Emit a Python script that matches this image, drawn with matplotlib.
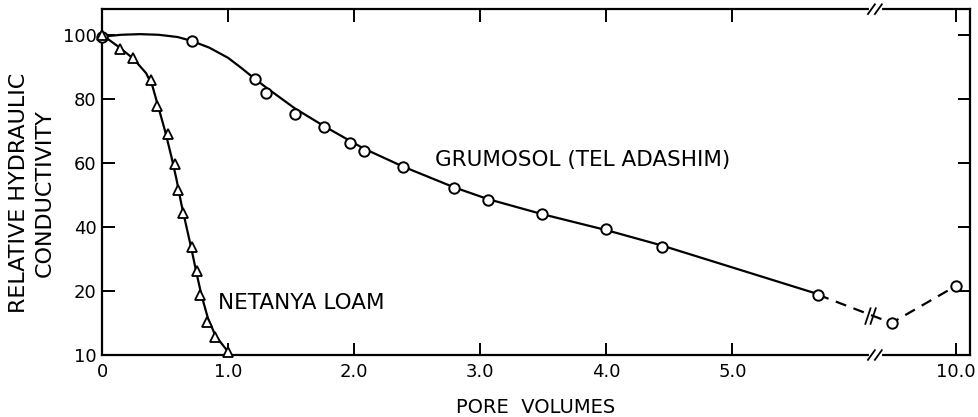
import numpy as np
import matplotlib
matplotlib.use("Agg")
import matplotlib.pyplot as plt

# Grumosol (Tel Adashim), circles
grum_x = [0.0, 0.71, 1.21, 1.30, 1.53, 1.76, 1.97, 2.08, 2.39, 2.79, 3.06, 3.49, 4.0, 4.44, 5.68]
grum_y = [99.4, 98.1, 86.3, 81.9, 75.3, 71.3, 66.3, 63.7, 58.8, 52.2, 48.4, 44.0, 39.4, 33.8, 18.8]
# smooth curve
grum_curve_x = [0.0, 0.15, 0.3, 0.45, 0.6, 0.71, 0.85, 1.0, 1.1, 1.21, 1.30, 1.53, 1.76, 1.97,
                2.08, 2.39, 2.79, 3.06, 3.49, 4.0, 4.44, 5.68]
grum_curve_y = [99.4, 100.0, 100.2, 100.0, 99.3, 98.1, 96.0, 92.8, 89.8, 86.3, 83.6, 77.0, 71.5,
                66.8, 64.4, 58.8, 52.4, 48.7, 44.0, 39.0, 34.2, 19.0]
# beyond the axis break (dashed)
grum_far_x = [5.68, 8.0, 10.0]
grum_far_y = [18.8, 10.0, 21.5]

# Netanya loam, triangles
net_x = [0.0, 0.14, 0.245, 0.39, 0.44, 0.52, 0.58, 0.60, 0.64, 0.71, 0.75, 0.78, 0.83, 0.90, 1.0]
net_y = [100.0, 95.6, 92.8, 86.0, 77.8, 69.0, 59.7, 51.6, 44.4, 33.8, 26.3, 18.8, 10.3, 5.6, 1.0]
# smooth curve
net_curve_x = [0.0, 0.14, 0.25, 0.35, 0.40, 0.45, 0.50, 0.55, 0.59, 0.63, 0.67, 0.71, 0.75,
               0.79, 0.84, 0.90, 1.0]
net_curve_y = [100.0, 96.0, 92.5, 88.0, 84.0, 77.0, 70.0, 62.0, 55.0, 47.0, 40.0, 33.0, 25.5,
               18.5, 11.5, 6.0, 1.0]

xtick_vals = [0, 1, 2, 3, 4, 5, 10]
xtick_labels = ["0", "1.0", "2.0", "3.0", "4.0", "5.0", "10.0"]
ytick_vals = [0, 20, 40, 60, 80, 100]
ytick_labels = ["10", "20", "40", "60", "80", "100"]

# broken x axis: 6.13 .. 7.5 squeezed out, right part compressed
XB0, XB1 = 6.13, 7.5
xp = [-10.0, XB0, XB1, 20.0]
up = [-10.0, XB0, XB0 + 0.005, XB0 + 0.005 + 12.5 * 0.254]


def fwd(x):
    return np.interp(x, xp, up)


def inv(u):
    return np.interp(u, up, xp)


plt.rcParams['font.family'] = ['DejaVu Sans']
fig = plt.figure(figsize=(9.79, 4.17), dpi=100)
ax = fig.add_axes([0.1042, 0.1487, 0.8866, 0.8293])
ax.set_xscale('function', functions=(fwd, inv))

lw = 1.6
ax.plot(grum_curve_x, grum_curve_y, color='black', lw=lw, zorder=2)
ax.plot(grum_far_x, grum_far_y, color='black', lw=lw, dashes=(5, 3.5), zorder=2)
ax.plot(grum_x + grum_far_x[1:], grum_y + grum_far_y[1:], 'o', ms=7.5, mfc='white',
        mec='black', mew=1.4, clip_on=False, zorder=3)

ax.plot(net_curve_x, net_curve_y, color='black', lw=lw, zorder=2)
ax.plot(net_x, net_y, '^', ms=7.5, mfc='white', mec='black', mew=1.3,
        clip_on=False, zorder=3)

xmax = 10.45
ax.set_xlim(0, xmax)
ax.set_ylim(0, 108)

ax.set_xticks(xtick_vals)
ax.set_xticklabels(xtick_labels)
ax.set_yticks(ytick_vals)
ax.set_yticklabels(ytick_labels)
ax.tick_params(direction='in', length=9, width=1.4, labelsize=13, top=True, right=True)
ax.tick_params(axis='x', pad=6)
ax.tick_params(axis='y', pad=4)
for s in ax.spines.values():
    s.set_linewidth(1.6)

# break marks "//" on top and bottom spines (axes coords)
ub = float(fwd(XB0)) / float(fwd(xmax))
for yy in (0, 1):
    ax.plot([ub - 0.004, ub + 0.006], [yy, yy], color='white', lw=3,
            transform=ax.transAxes, clip_on=False, zorder=4)
    for dx in (ub - 0.004, ub + 0.004):
        ax.plot([dx - 0.004, dx + 0.004], [yy - 0.014, yy + 0.014], color='black', lw=1.3,
                transform=ax.transAxes, clip_on=False, zorder=5)
# break marks on dashed curve
for dx in (ub - 0.008, ub - 0.002):
    ax.plot([dx - 0.003, dx + 0.003], [0.09, 0.135], color='black', lw=1.3,
            transform=ax.transAxes, zorder=5)

ax.text(0.92, 16.3, "NETANYA LOAM", fontsize=15.5, ha='left', va='center')
ax.text(2.64, 61, "GRUMOSOL (TEL ADASHIM)", fontsize=15.5, ha='left', va='center')

ax.set_xlabel("PORE  VOLUMES", fontsize=14, labelpad=12)
ax.set_ylabel("RELATIVE HYDRAULIC\nCONDUCTIVITY", fontsize=16, linespacing=1.3)
ax.yaxis.set_label_coords(-0.055, 0.468)

fig.savefig("out.png", dpi=100)
